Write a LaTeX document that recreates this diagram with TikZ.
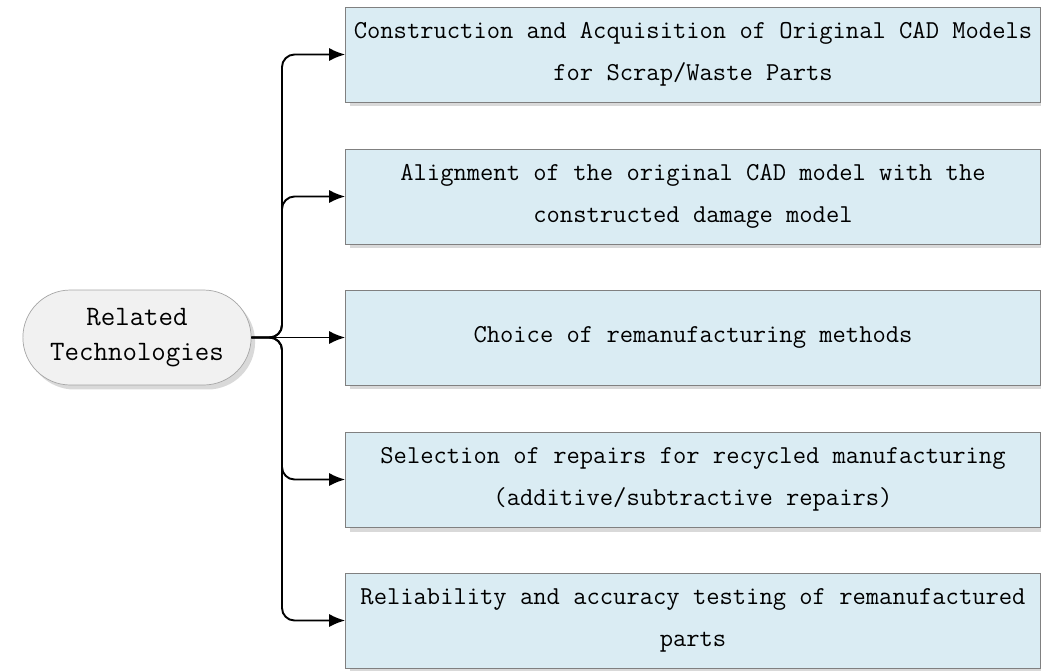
\documentclass[tikz,border=0pt]{standalone}
\usepackage{tikz}
\usetikzlibrary{arrows.meta, shapes.misc, shadows}
\definecolor{boxblue}{RGB}{218,236,243}
\definecolor{edgegray}{RGB}{128,128,128}
\definecolor{rootgray}{RGB}{241,241,241}

\begin{document}
\begin{tikzpicture}[x=0.02cm, y=-0.02cm,
  font=\ttfamily\fontsize{14.7}{24}\selectfont,
  box/.style={draw=edgegray, fill=boxblue, minimum width=13.9cm, minimum height=1.9cm, inner xsep=1pt, align=center,
    drop shadow={shadow xshift=0.08cm, shadow yshift=-0.09cm, opacity=0.3}},
  root/.style={draw=gray!70, fill=rootgray, rounded rectangle, minimum width=4.8cm, minimum height=1.9cm, align=center,
    font=\ttfamily\fontsize{16}{20}\selectfont,
    drop shadow={shadow xshift=0.08cm, shadow yshift=-0.09cm, opacity=0.3}},
  arr/.style={-{Latex[length=0.32cm, width=0.26cm]}, line width=1.1pt, rounded corners=0.25cm}]
  \useasboundingbox (0,0) rectangle (1041,670);
  \node[root] (rel) at (137,337.5) {Related\\Technologies};
  \node[box] (cad) at (693,54.5)  {Construction and Acquisition of Original CAD Models\\for Scrap/Waste Parts};
  \node[box] (aln) at (693,196.5) {Alignment of the original CAD model with the\\constructed damage model};
  \node[box] (mth) at (693,337.5) {Choice of remanufacturing methods};
  \node[box] (rep) at (693,479.5) {Selection of repairs for recycled manufacturing\\(additive/subtractive repairs)};
  \node[box] (tst) at (693,620.5) {Reliability and accuracy testing of remanufactured\\parts};
  \coordinate (split) at (282,337.5);
  \draw[arr] (rel.east) -- (split) |- (cad.west); \draw[arr] (rel.east) -- (split) |- (aln.west);
  \draw[arr] (rel.east) -- (mth.west);
  \draw[arr] (rel.east) -- (split) |- (rep.west); \draw[arr] (rel.east) -- (split) |- (tst.west);
\end{tikzpicture}
\end{document}
